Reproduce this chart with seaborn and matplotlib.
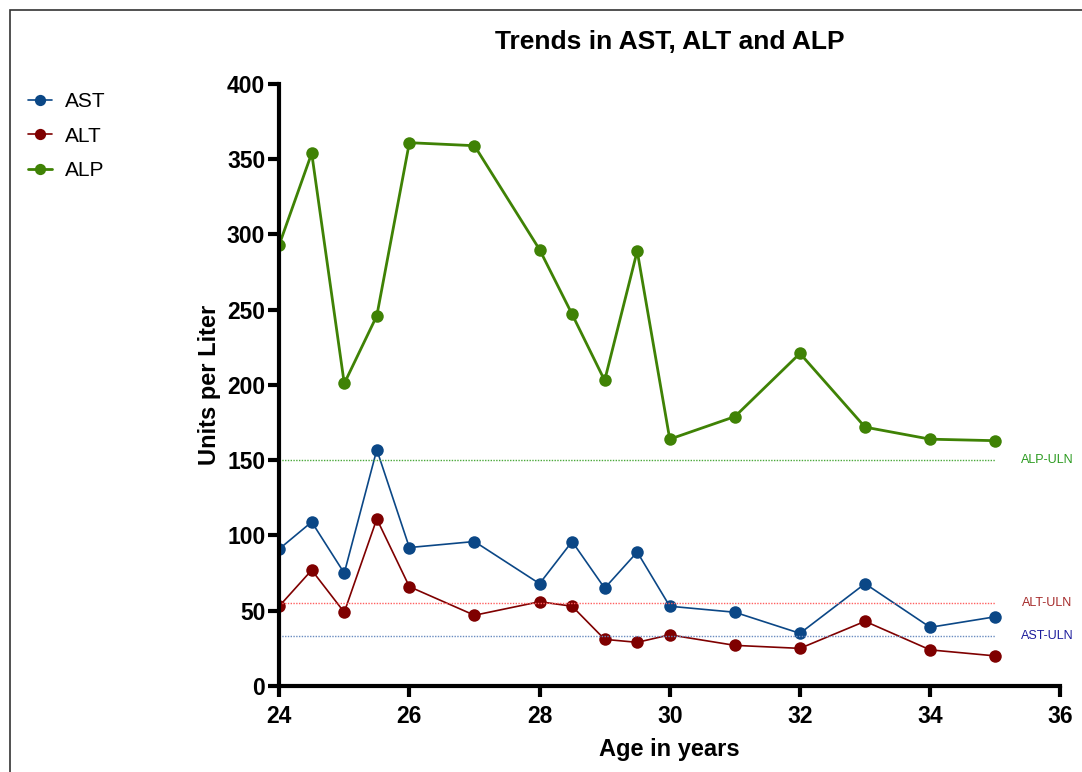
import numpy as np
import pandas as pd
import matplotlib
matplotlib.use("Agg")
import matplotlib.pyplot as plt
from matplotlib.patches import Rectangle
import seaborn as sns

age = [24, 24.5, 25, 25.5, 26, 27, 28, 28.5, 29, 29.5, 30, 31, 32, 33, 34, 35]
ast = [91, 109, 75, 157, 92, 96, 68, 96, 65, 89, 53, 49, 35, 68, 39, 46]
alt = [53, 77, 49, 111, 66, 47, 56, 53, 31, 29, 34, 27, 25, 43, 24, 20]
alp = [293, 354, 201, 246, 361, 359, 290, 247, 203, 289, 164, 179, 221, 172, 164, 163]

uln_names = ["ALP-ULN", "ALT-ULN", "AST-ULN"]
uln_values = [150, 55, 33]

sns.set_style("white")
plt.rcParams['font.family'] = ['Liberation Sans', 'DejaVu Sans']
plt.rcParams['text.color'] = 'black'
plt.rcParams['axes.labelcolor'] = 'black'

data = pd.DataFrame({"Age": age * 3,
                     "Value": ast + alt + alp,
                     "Test": ["AST"] * len(age) + ["ALT"] * len(age) + ["ALP"] * len(age)})

colors = {"AST": "#0b4786", "ALT": "#7f0000", "ALP": "#3f8205"}
widths = {"AST": 1.2, "ALT": 1.2, "ALP": 2.0}
uln_colors = ["#2a9a1e", "#a52a2a", "#1c1c9c"]
line_colors = ["#4aa83a", "#ff6060", "#6a8cc0"]

fig = plt.figure(figsize=(10.82, 7.72), dpi=100)
ax = fig.add_axes([0.258, 0.1114, 0.722, 0.7798])

for name in ["AST", "ALT", "ALP"]:
    sns.lineplot(data=data[data["Test"] == name], x="Age", y="Value", ax=ax,
                 color=colors[name], linewidth=widths[name], marker="o",
                 markersize=9, markeredgewidth=0, label=name)

# upper limit of normal lines
for name, val, tc, lc in zip(uln_names, uln_values, uln_colors, line_colors):
    ax.plot([24, 35], [val, val], linestyle=(0, (1, 1)), color=lc, linewidth=1)
    offset = {"ALP-ULN": 0, "ALT-ULN": 0, "AST-ULN": 0.5}[name]
    ax.text(35.8, val + offset, name, color=tc, fontsize=9, ha="center", va="center",
            clip_on=False)

ax.set_xlim(24, 36)
ax.set_ylim(0, 400)
ax.set_xticks(np.arange(24, 37, 2))
ax.set_yticks(np.arange(0, 401, 50))
sns.despine(ax=ax)
for s in ["left", "bottom"]:
    ax.spines[s].set_linewidth(3)
    ax.spines[s].set_color("black")
ax.tick_params(axis="both", direction="out", length=8, width=3, labelsize=16.5,
               left=True, bottom=True, colors="black")
ax.tick_params(axis="x", pad=6)
ax.tick_params(axis="y", pad=2)
for lbl in ax.get_xticklabels() + ax.get_yticklabels():
    lbl.set_fontweight("bold")

ax.set_title("Trends in AST, ALT and ALP", fontsize=19, fontweight="bold", pad=25)
ax.set_xlabel("Age in years", fontsize=17, fontweight="bold", labelpad=7)
ax.set_ylabel("Units per Liter", fontsize=17, fontweight="bold", labelpad=4)

handles, labels = ax.get_legend_handles_labels()
ax.legend(handles[:3], labels[:3], loc="upper left", bbox_to_anchor=(0.0086, 0.905),
          bbox_transform=fig.transFigure, frameon=False, fontsize=15,
          handlelength=1.15, handletextpad=0.6, labelspacing=0.75, markerscale=0.9)

fig.add_artist(Rectangle((10 / 1082, -0.1), 1.2, 1.1 - 10 / 772,
                         transform=fig.transFigure, fill=False,
                         edgecolor="#333333", linewidth=1.2))

fig.savefig("out.png", dpi=100)
